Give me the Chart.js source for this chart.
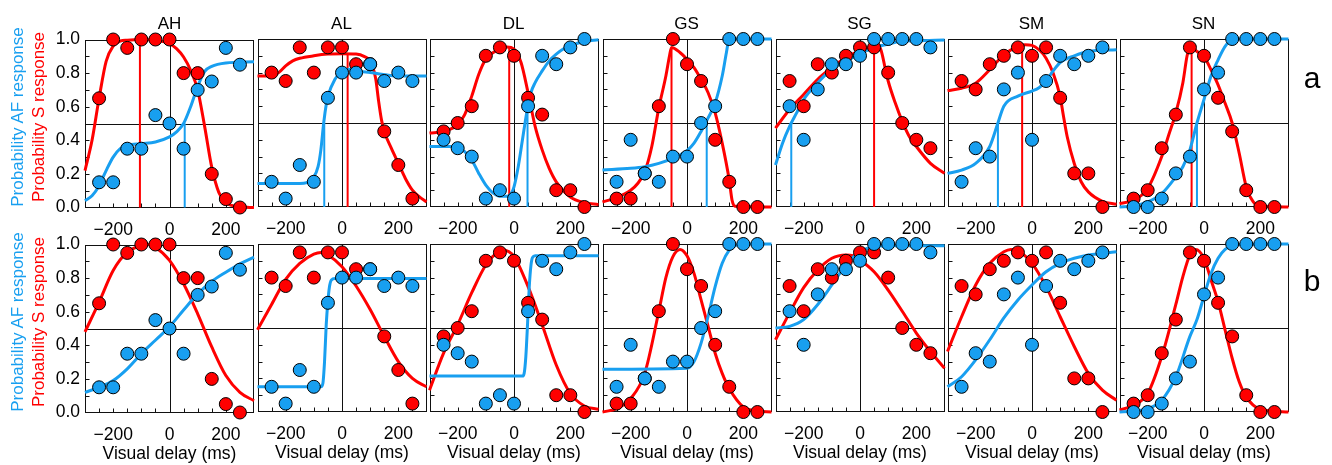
<!DOCTYPE html>
<html><head><meta charset="utf-8">
<script src="https://cdn.jsdelivr.net/npm/chart.js@4.4.1/dist/chart.umd.min.js"></script>
<style>
html,body{margin:0;padding:0;background:#fff;overflow:hidden;}
body{width:1332px;height:465px;position:relative;font-family:"Liberation Sans",Arial,Helvetica,sans-serif;color:#000;}
canvas{position:absolute;}
.ptitle{position:absolute;text-align:center;font-size:17px;line-height:17px;white-space:nowrap;}
.ylab{position:absolute;white-space:nowrap;font-size:17px;line-height:17px;transform:translate(-50%,-50%) rotate(-90deg);}
.rowlab{position:absolute;font-size:30px;line-height:30px;transform:translateX(-50%);}
</style></head><body>
<script>
// ---------- text ----------
const subjects = ['AH','AL','DL','GS','SG','SM','SN'];
const rowLabels = ['a','b'];
const xLabel = 'Visual delay (ms)';
const yLabelAF = 'Probability AF response';
const yLabelS = 'Probability S response';

// ---------- axes ----------
const xTickValues = [-200, 0, 200];
const yTickValues = [0, 0.2, 0.4, 0.6, 0.8, 1.0];
const xMinorTicks = [-250,-200,-150,-100,-50,0,50,100,150,200,250];
const yMinorTicks = [0.1,0.2,0.3,0.4,0.5,0.6,0.7,0.8,0.9];
const delays = [-250,-200,-150,-100,-50,0,50,100,150,200,250];

// ---------- observed proportions (S = red, AF = blue) ----------
const sAH  = [0.65,1,0.95,1,1,1,0.8,0.8,0.2,0.05,0];
const afAH = [0.15,0.15,0.35,0.35,0.55,0.5,0.35,0.7,0.75,0.95,0.85];
const sAL  = [0.8,0.75,0.95,0.8,0.95,0.95,0.85,0.85,0.45,0.25,0.05];
const afAL = [0.15,0.05,0.25,0.15,0.65,0.8,0.8,0.85,0.75,0.8,0.75];
const sDL  = [0.45,0.5,0.6,0.9,0.95,0.9,0.65,0.55,0.1,0.1,0];
const afDL = [0.4,0.35,0.3,0.05,0.1,0.05,0.6,0.9,0.85,0.95,1];
const sGS  = [0.05,0.05,0.2,0.6,1,0.85,0.75,0.4,0.15,0,0];
const afGS = [0.15,0.4,0.2,0.15,0.3,0.3,0.5,0.6,1,1,1];
const sSG  = [0.75,0.6,0.85,0.8,0.9,0.95,0.95,0.8,0.5,0.4,0.35];
const afSG = [0.6,0.4,0.7,0.85,0.85,0.9,1,1,1,1,0.95];
const sSM  = [0.75,0.7,0.85,0.9,0.95,0.9,0.95,0.65,0.2,0.2,0];
const afSM = [0.15,0.35,0.3,0.7,0.8,0.4,0.75,0.9,0.85,0.9,0.95];
const sSN  = [0.05,0.1,0.35,0.55,0.95,0.9,0.65,0.45,0.1,0,0];
const afSN = [0,0,0.05,0.2,0.3,0.7,0.8,1,1,1,1];

// ---------- fitted curves, row a ----------
const fitS_a_AH = [[-300,0.22],[-275,0.40],[-250,0.65],[-225,0.87],[-200,0.96],[-175,0.99],[-150,0.996],[-100,1.0],[-50,0.996],[0,0.976],[25,0.946],[50,0.896],[75,0.817],[100,0.70],[125,0.48],[150,0.24],[175,0.09],[200,0.03],[250,0.004],[300,0]];
const fitAF_a_AH = [[-300,0.04],[-275,0.07],[-250,0.13],[-225,0.22],[-200,0.30],[-175,0.35],[-150,0.37],[-100,0.38],[-50,0.39],[0,0.42],[25,0.45],[50,0.50],[75,0.60],[100,0.72],[125,0.81],[150,0.84],[200,0.86],[300,0.867]];
const fitS_a_AL = [[-300,0.78],[-250,0.78],[-225,0.80],[-200,0.84],[-175,0.87],[-150,0.885],[-100,0.90],[-50,0.91],[0,0.912],[50,0.91],[80,0.895],[100,0.87],[110,0.83],[120,0.76],[130,0.63],[140,0.52],[150,0.45],[175,0.35],[200,0.26],[225,0.17],[250,0.10],[275,0.06],[300,0.03]];
const fitAF_a_AL = [[-300,0.14],[-150,0.14],[-100,0.18],[-85,0.24],[-75,0.34],[-65,0.50],[-55,0.62],[-50,0.66],[-25,0.76],[0,0.81],[25,0.82],[50,0.81],[100,0.80],[200,0.78],[300,0.78]];
const fitS_a_DL = [[-300,0.44],[-250,0.45],[-200,0.49],[-175,0.55],[-150,0.66],[-125,0.79],[-100,0.88],[-50,0.94],[-25,0.952],[0,0.94],[25,0.86],[50,0.68],[75,0.48],[100,0.34],[125,0.23],[150,0.15],[200,0.06],[250,0.026],[300,0.014]];
const fitAF_a_DL = [[-300,0.36],[-225,0.36],[-200,0.35],[-175,0.33],[-150,0.28],[-125,0.20],[-100,0.13],[-75,0.084],[-50,0.064],[-25,0.064],[-10,0.08],[0,0.12],[15,0.24],[30,0.40],[45,0.56],[60,0.68],[75,0.74],[100,0.81],[125,0.87],[150,0.91],[175,0.94],[200,0.96],[250,0.985],[300,0.995]];
const fitS_a_GS = [[-300,0.03],[-250,0.056],[-200,0.10],[-175,0.14],[-150,0.21],[-125,0.36],[-100,0.59],[-75,0.78],[-62,0.90],[-55,0.95],[-25,0.92],[0,0.88],[25,0.83],[50,0.76],[75,0.68],[100,0.56],[125,0.38],[150,0.16],[160,0.04],[170,0.005],[300,0]];
const fitAF_a_GS = [[-300,0.22],[-200,0.23],[-150,0.24],[-100,0.26],[-50,0.29],[0,0.335],[25,0.38],[50,0.45],[75,0.53],[100,0.62],[125,0.78],[140,0.92],[150,1.0],[300,1.0]];
const fitS_a_SG = [[-300,0.47],[-250,0.58],[-200,0.67],[-150,0.76],[-100,0.83],[-50,0.89],[0,0.93],[25,0.946],[50,0.956],[62,0.958],[72,0.946],[80,0.90],[90,0.82],[100,0.75],[125,0.62],[150,0.51],[175,0.42],[200,0.36],[250,0.26],[300,0.20]];
const fitAF_a_SG = [[-300,0.25],[-275,0.38],[-250,0.48],[-225,0.56],[-200,0.64],[-150,0.74],[-100,0.82],[-50,0.87],[0,0.91],[50,0.95],[100,0.97],[150,0.988],[200,0.99],[300,0.994]];
const fitS_a_SM = [[-300,0.693],[-250,0.707],[-200,0.737],[-150,0.817],[-100,0.906],[-50,0.956],[-25,0.966],[0,0.962],[25,0.936],[50,0.886],[75,0.797],[100,0.657],[110,0.558],[125,0.418],[150,0.259],[175,0.149],[200,0.09],[250,0.034],[300,0.016]];
const fitAF_a_SM = [[-300,0.20],[-250,0.22],[-200,0.26],[-150,0.36],[-121,0.50],[-100,0.60],[-50,0.66],[0,0.69],[25,0.71],[50,0.75],[75,0.81],[100,0.86],[150,0.90],[200,0.926],[300,0.936]];
const fitS_a_SN = [[-300,0.02],[-250,0.04],[-200,0.11],[-150,0.30],[-125,0.43],[-100,0.56],[-75,0.74],[-60,0.90],[-50,0.95],[-40,0.946],[-25,0.926],[0,0.896],[25,0.817],[50,0.727],[75,0.617],[100,0.50],[125,0.32],[150,0.12],[175,0.03],[200,0.004],[300,0]];
const fitAF_a_SN = [[-300,0],[-250,0.006],[-200,0.03],[-150,0.08],[-100,0.18],[-75,0.24],[-50,0.34],[-25,0.50],[0,0.64],[25,0.78],[50,0.876],[75,0.956],[100,0.996],[125,1.0],[300,1.0]];

// ---------- fitted curves, row b ----------
const fitS_b_AH = [[-300,0.48],[-250,0.657],[-200,0.845],[-150,0.954],[-100,0.994],[-75,1.0],[-50,0.984],[0,0.905],[50,0.766],[100,0.587],[150,0.39],[200,0.22],[250,0.12],[300,0.07]];
const fitAF_b_AH = [[-300,0.12],[-250,0.15],[-200,0.19],[-150,0.26],[-100,0.35],[-50,0.43],[0,0.51],[50,0.61],[100,0.706],[150,0.78],[200,0.835],[250,0.885],[300,0.925]];
const fitS_b_AL = [[-300,0.49],[-250,0.64],[-200,0.79],[-150,0.885],[-100,0.94],[-75,0.95],[-50,0.935],[0,0.865],[50,0.75],[100,0.61],[150,0.45],[200,0.30],[250,0.20],[300,0.15]];
const fitAF_b_AL = [[-300,0.15],[-75,0.15],[-68,0.17],[-62,0.30],[-56,0.52],[-50,0.66],[-45,0.74],[-38,0.785],[-25,0.795],[300,0.795]];
const fitS_b_DL = [[-300,0.13],[-250,0.35],[-200,0.52],[-150,0.71],[-100,0.875],[-50,0.96],[-40,0.964],[0,0.925],[50,0.746],[100,0.52],[150,0.28],[200,0.11],[250,0.036],[300,0.016]];
const fitAF_b_DL = [[-300,0.214],[30,0.214],[36,0.23],[42,0.33],[48,0.52],[54,0.74],[60,0.87],[66,0.92],[75,0.93],[300,0.93]];
const fitS_b_GS = [[-300,0],[-250,0.02],[-200,0.08],[-150,0.23],[-100,0.60],[-75,0.80],[-50,0.925],[-25,0.968],[0,0.93],[25,0.825],[50,0.667],[75,0.51],[100,0.35],[125,0.23],[150,0.14],[200,0.03],[250,0.006],[300,0]];
const fitAF_b_GS = [[-300,0.254],[0,0.26],[25,0.30],[50,0.41],[75,0.57],[100,0.746],[125,0.885],[150,0.964],[175,0.994],[200,1.0],[300,1.0]];
const fitS_b_SG = [[-300,0.43],[-250,0.59],[-200,0.74],[-150,0.845],[-100,0.915],[-50,0.935],[-25,0.93],[0,0.905],[50,0.835],[100,0.726],[150,0.60],[200,0.47],[250,0.36],[300,0.26]];
const fitAF_b_SG = [[-300,0.50],[-250,0.51],[-200,0.55],[-150,0.64],[-100,0.756],[-50,0.875],[0,0.954],[50,0.984],[100,0.99],[300,0.99]];
const fitS_b_SM = [[-300,0.36],[-250,0.567],[-200,0.756],[-150,0.885],[-100,0.954],[-75,0.968],[-50,0.96],[0,0.885],[50,0.746],[100,0.567],[150,0.39],[200,0.23],[250,0.13],[300,0.07]];
const fitAF_b_SM = [[-300,0.15],[-250,0.21],[-200,0.31],[-150,0.43],[-100,0.56],[-50,0.667],[0,0.756],[50,0.835],[100,0.885],[150,0.915],[200,0.935],[250,0.944],[300,0.954]];
const fitS_b_SN = [[-300,0.012],[-250,0.04],[-200,0.11],[-150,0.33],[-100,0.64],[-75,0.806],[-50,0.935],[-30,0.968],[0,0.915],[25,0.786],[50,0.657],[75,0.488],[100,0.32],[125,0.18],[150,0.09],[200,0.016],[300,0]];
const fitAF_b_SN = [[-300,0],[-200,0.02],[-150,0.07],[-100,0.21],[-50,0.45],[-25,0.55],[0,0.69],[25,0.825],[50,0.915],[75,0.968],[100,0.99],[150,0.998],[300,1.0]];

// ---------- row a markers: S peak (red) and AF 50% point (blue) ----------
const pssX = [-105, 20, -17, -55, 50, -35, -44];
const pssTop = [1.0, 0.91, 0.95, 0.95, 0.956, 0.966, 0.95];
const afCrossX = [54, -63, 48, 70, -244, -121, -25];
const afCrossTop = [0.5, 0.5, 0.58, 0.5, 0.5, 0.5, 0.5];

// ---------- assemble ----------
const sData = [sAH,sAL,sDL,sGS,sSG,sSM,sSN];
const afData = [afAH,afAL,afDL,afGS,afSG,afSM,afSN];
const fitS = [[fitS_a_AH,fitS_a_AL,fitS_a_DL,fitS_a_GS,fitS_a_SG,fitS_a_SM,fitS_a_SN],
              [fitS_b_AH,fitS_b_AL,fitS_b_DL,fitS_b_GS,fitS_b_SG,fitS_b_SM,fitS_b_SN]];
const fitAF = [[fitAF_a_AH,fitAF_a_AL,fitAF_a_DL,fitAF_a_GS,fitAF_a_SG,fitAF_a_SM,fitAF_a_SN],
               [fitAF_b_AH,fitAF_b_AL,fitAF_b_DL,fitAF_b_GS,fitAF_b_SG,fitAF_b_SM,fitAF_b_SN]];

const RED = '#ff0000';
const BLUE = '#189ff0';
const FONT = 'Liberation Sans, Arial, Helvetica, sans-serif';
const panelLeft = [85, 257, 429, 602, 775, 947, 1119];
const PW = 169, PH = 168;
const rowTop = [39, 244];

const framePlugin = {
  id: 'frame',
  beforeDatasetsDraw(chart) {
    const {ctx, chartArea: a, scales: {x, y}} = chart;
    ctx.save();
    ctx.strokeStyle = '#111';
    ctx.lineWidth = 1;
    const L = Math.round(a.left) + 0.5, R = Math.round(a.right) - 0.5;
    const T = Math.round(a.top) + 0.5, B = Math.round(a.bottom) - 0.5;
    ctx.strokeRect(L, T, R - L, B - T);
    ctx.beginPath();
    const x0 = Math.round(x.getPixelForValue(0)) + 0.5;
    const yh = Math.round(y.getPixelForValue(0.5)) + 0.5;
    ctx.moveTo(x0, T); ctx.lineTo(x0, B);
    ctx.moveTo(L, yh); ctx.lineTo(R, yh);
    yMinorTicks.forEach(v => { const py = Math.round(y.getPixelForValue(v)) + 0.5; ctx.moveTo(L, py); ctx.lineTo(L + 4, py); });
    xMinorTicks.forEach(v => { const px = Math.round(x.getPixelForValue(v)) + 0.5; ctx.moveTo(px, B); ctx.lineTo(px, B - 4); });
    ctx.stroke();
    ctx.restore();
  }
};

function fmtX(v) { return v < 0 ? '\u2212' + Math.abs(v) : String(v); }

function makeChart(col, row) {
  const padL = col === 0 ? 60 : 1;
  const padT = 12, padR = 12;
  const padB = row === 0 ? 30 : 54;
  const W = padL + PW + padR, H = padT + PH + padB;
  const cv = document.createElement('canvas');
  cv.width = W; cv.height = H;
  cv.style.left = (panelLeft[col] - padL) + 'px';
  cv.style.top = (rowTop[row] - padT) + 'px';
  cv.style.width = W + 'px'; cv.style.height = H + 'px';
  document.body.appendChild(cv);

  const datasets = [];
  datasets.push({data: delays.map((d, i) => ({x: d, y: afData[col][i]})), showLine: false,
    pointRadius: 6.5, pointBackgroundColor: BLUE, pointBorderColor: '#000', pointBorderWidth: 1, order: 0});
  datasets.push({data: delays.map((d, i) => ({x: d, y: sData[col][i]})), showLine: false,
    pointRadius: 6.5, pointBackgroundColor: RED, pointBorderColor: '#000', pointBorderWidth: 1, order: 1});
  datasets.push({data: fitAF[row][col].map(p => ({x: p[0], y: p[1]})), showLine: true, pointRadius: 0,
    borderColor: BLUE, borderWidth: 3, cubicInterpolationMode: 'monotone', order: 2});
  datasets.push({data: fitS[row][col].map(p => ({x: p[0], y: p[1]})), showLine: true, pointRadius: 0,
    borderColor: RED, borderWidth: 3, cubicInterpolationMode: 'monotone', order: 3});
  if (row === 0) {
    datasets.push({data: [{x: afCrossX[col], y: 0}, {x: afCrossX[col], y: afCrossTop[col]}], showLine: true,
      pointRadius: 0, borderColor: BLUE, borderWidth: 2, order: 4});
    datasets.push({data: [{x: pssX[col], y: 0}, {x: pssX[col], y: pssTop[col]}], showLine: true,
      pointRadius: 0, borderColor: RED, borderWidth: 2, order: 5});
  }
  datasets.forEach(d => { d.clip = false; d.pointHoverRadius = 0; });

  const ch = new Chart(cv, {
    type: 'scatter',
    data: {datasets},
    plugins: [framePlugin],
    options: {
      responsive: false, maintainAspectRatio: false, animation: false, devicePixelRatio: 1, events: [],
      layout: {padding: {top: padT, right: padR, left: 0, bottom: 0}},
      plugins: {legend: {display: false}, tooltip: {enabled: false}},
      scales: {
        x: {
          type: 'linear', min: -300, max: 300, position: 'bottom',
          grid: {display: false, drawTicks: false}, border: {display: false},
          ticks: {color: '#000', font: {family: FONT, size: 17.5}, padding: 12, maxRotation: 0, autoSkip: false,
                  callback: v => fmtX(v)},
          afterBuildTicks: s => { s.ticks = xTickValues.map(v => ({value: v})); },
          afterFit: s => { s.height = padB; },
          title: {display: row === 1, text: xLabel, color: '#000', font: {family: FONT, size: 17.5}, padding: {top: 0, bottom: 2}}
        },
        y: {
          type: 'linear', min: 0, max: 1, position: 'left',
          grid: {display: false, drawTicks: false}, border: {display: false},
          ticks: {display: col === 0, color: '#000', font: {family: FONT, size: 17.5}, padding: 5,
                  callback: v => Number(v).toFixed(1)},
          afterBuildTicks: s => { s.ticks = yTickValues.map(v => ({value: v})); },
          afterFit: s => { s.width = padL; }
        }
      }
    }
  });
  // make the plotting area exactly PW x PH and place it at the panel position
  const a = ch.chartArea;
  const dw = PW - (a.right - a.left), dh = PH - (a.bottom - a.top);
  if (Math.abs(dw) > 0.01 || Math.abs(dh) > 0.01) ch.resize(W + dw, H + dh);
  const a2 = ch.chartArea;
  cv.style.left = (panelLeft[col] - a2.left) + 'px';
  cv.style.top = (rowTop[row] - a2.top) + 'px';
}

for (let r = 0; r < 2; r++) for (let c = 0; c < 7; c++) makeChart(c, r);

// titles
subjects.forEach((s, c) => {
  const d = document.createElement('div');
  d.className = 'ptitle';
  d.textContent = s;
  d.style.left = panelLeft[c] + 'px'; d.style.width = PW + 'px'; d.style.top = '15px';
  document.body.appendChild(d);
});
// y-axis titles
rowTop.forEach(t => {
  const cy = t + PH / 2 - 6;
  const b = document.createElement('div');
  b.className = 'ylab'; b.textContent = yLabelAF; b.style.color = BLUE;
  b.style.left = '17px'; b.style.top = cy + 'px';
  document.body.appendChild(b);
  const r = document.createElement('div');
  r.className = 'ylab'; r.textContent = yLabelS; r.style.color = RED;
  r.style.left = '37.5px'; r.style.top = cy + 'px';
  document.body.appendChild(r);
});
// row labels
rowLabels.forEach((l, i) => {
  const d = document.createElement('div');
  d.className = 'rowlab'; d.textContent = l;
  d.style.left = '1312px'; d.style.top = (i === 0 ? 63 : 266) + 'px';
  document.body.appendChild(d);
});
</script>
</body></html>
